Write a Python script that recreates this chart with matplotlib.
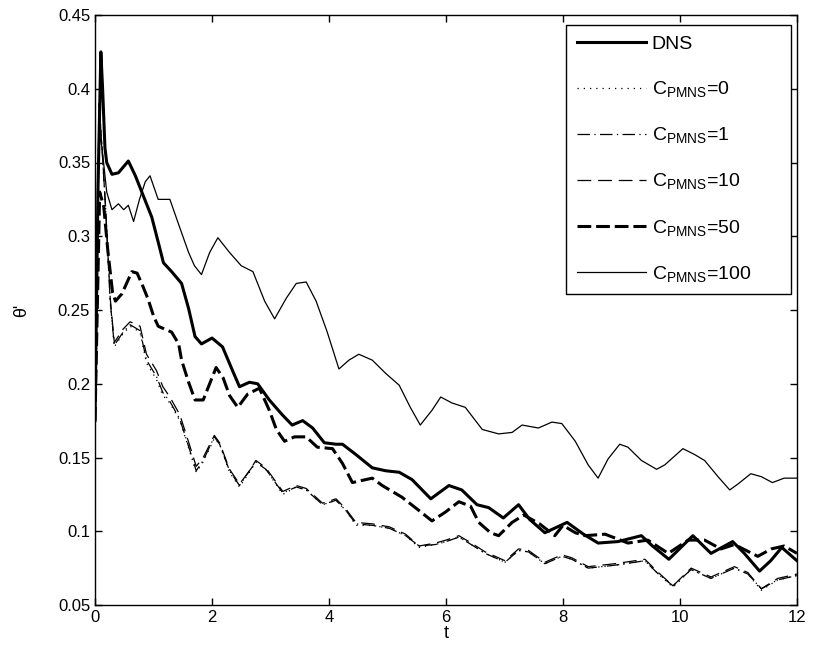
import matplotlib
matplotlib.use("Agg")
import matplotlib.pyplot as plt

plt.rcParams['font.family'] = ['Liberation Sans', 'DejaVu Sans']
plt.rcParams['mathtext.default'] = 'regular'

# DNS (linea gruesa)
t_dns = [0, 0.05, 0.1, 0.13, 0.17, 0.2, 0.29, 0.4, 0.57, 0.69, 0.8, 0.97, 1.1, 1.17, 1.31,
         1.48, 1.6, 1.71, 1.82, 2.0, 2.18, 2.35, 2.47, 2.64, 2.78, 2.98, 3.2, 3.37, 3.55, 3.72,
         3.92, 4.12, 4.23, 4.46, 4.74, 4.97, 5.2, 5.42, 5.74, 6.05, 6.27, 6.53, 6.73, 6.98,
         7.24, 7.43, 7.69, 8.07, 8.35, 8.6, 8.94, 9.34, 9.53, 9.81, 10.22, 10.53, 10.9, 11.1,
         11.36, 11.55, 11.74, 12]
th_dns = [0.175, 0.33, 0.425, 0.40, 0.36, 0.35, 0.342, 0.343, 0.351, 0.341, 0.330, 0.313,
          0.293, 0.282, 0.276, 0.268, 0.251, 0.232, 0.227, 0.231, 0.225, 0.209, 0.198, 0.201,
          0.200, 0.189, 0.179, 0.172, 0.175, 0.170, 0.160, 0.159, 0.159, 0.152, 0.143, 0.141,
          0.140, 0.135, 0.122, 0.131, 0.128, 0.118, 0.116, 0.109, 0.118, 0.108, 0.099, 0.106,
          0.098, 0.092, 0.093, 0.097, 0.090, 0.081, 0.097, 0.085, 0.093, 0.085, 0.073, 0.080,
          0.089, 0.080]

# C_PMNS = 0
t_c0 = [0, 0.07, 0.12, 0.18, 0.26, 0.33, 0.48, 0.6, 0.77, 0.88, 1.05, 1.16, 1.28, 1.45, 1.62,
        1.73, 1.85, 2.04, 2.13, 2.3, 2.47, 2.64, 2.75, 2.92, 3.21, 3.44, 3.61, 3.89, 4.12,
        4.29, 4.46, 4.74, 5.03, 5.31, 5.54, 5.82, 6.0, 6.22, 6.39, 6.67, 7.01, 7.24, 7.41,
        7.69, 7.98, 8.15, 8.43, 8.89, 9.4, 9.63, 9.88, 10.19, 10.53, 10.93, 11.16, 11.39,
        11.67, 12]
th_c0 = [0.175, 0.39, 0.36, 0.32, 0.255, 0.225, 0.234, 0.239, 0.235, 0.214, 0.203, 0.192,
         0.187, 0.175, 0.154, 0.140, 0.147, 0.163, 0.159, 0.140, 0.130, 0.140, 0.147, 0.142,
         0.125, 0.130, 0.128, 0.118, 0.121, 0.114, 0.104, 0.104, 0.102, 0.097, 0.089, 0.091,
         0.093, 0.096, 0.092, 0.085, 0.079, 0.087, 0.086, 0.078, 0.083, 0.081, 0.075, 0.077,
         0.080, 0.071, 0.062, 0.074, 0.068, 0.075, 0.071, 0.060, 0.067, 0.070]

# C_PMNS = 1
t_c1 = t_c0
th_c1 = [0.175, 0.39, 0.36, 0.32, 0.256, 0.226, 0.235, 0.240, 0.236, 0.216, 0.205, 0.194,
         0.188, 0.176, 0.155, 0.141, 0.148, 0.164, 0.159, 0.141, 0.131, 0.141, 0.147, 0.142,
         0.126, 0.130, 0.128, 0.118, 0.121, 0.114, 0.105, 0.104, 0.102, 0.097, 0.090, 0.091,
         0.093, 0.096, 0.092, 0.085, 0.079, 0.087, 0.086, 0.078, 0.083, 0.081, 0.075, 0.077,
         0.080, 0.071, 0.063, 0.074, 0.068, 0.075, 0.071, 0.061, 0.067, 0.070]

# C_PMNS = 10
t_c10 = t_c0
th_c10 = [0.175, 0.385, 0.36, 0.32, 0.258, 0.228, 0.237, 0.242, 0.239, 0.220, 0.209, 0.198,
          0.191, 0.179, 0.158, 0.144, 0.150, 0.165, 0.160, 0.142, 0.132, 0.141, 0.148, 0.143,
          0.127, 0.131, 0.129, 0.119, 0.122, 0.115, 0.106, 0.105, 0.103, 0.098, 0.090, 0.092,
          0.094, 0.097, 0.093, 0.086, 0.080, 0.088, 0.087, 0.079, 0.084, 0.082, 0.076, 0.078,
          0.081, 0.072, 0.063, 0.075, 0.069, 0.076, 0.072, 0.061, 0.068, 0.071]

# C_PMNS = 50
t_c50 = [0, 0.08, 0.15, 0.22, 0.3, 0.35, 0.46, 0.63, 0.72, 0.83, 0.91, 1.0, 1.08, 1.31, 1.43,
         1.48, 1.6, 1.71, 1.85, 2.07, 2.19, 2.3, 2.44, 2.61, 2.81, 2.98, 3.1, 3.24, 3.41, 3.61,
         3.8, 4.06, 4.23, 4.4, 4.74, 4.91, 5.25, 5.54, 5.76, 5.99, 6.22, 6.42, 6.56, 6.76, 6.9,
         7.13, 7.33, 7.6, 7.86, 8.0, 8.21, 8.38, 8.72, 9.11, 9.45, 9.8, 10.14, 10.42, 10.7,
         10.93, 11.33, 11.56, 11.78, 12]
th_c50 = [0.175, 0.33, 0.32, 0.29, 0.262, 0.256, 0.261, 0.276, 0.275, 0.265, 0.257, 0.246,
          0.239, 0.235, 0.227, 0.216, 0.201, 0.189, 0.189, 0.211, 0.204, 0.192, 0.184, 0.193,
          0.197, 0.182, 0.169, 0.161, 0.164, 0.164, 0.157, 0.156, 0.146, 0.133, 0.136, 0.131,
          0.123, 0.114, 0.107, 0.113, 0.120, 0.117, 0.106, 0.099, 0.097, 0.106, 0.111, 0.105,
          0.097, 0.104, 0.099, 0.097, 0.098, 0.092, 0.094, 0.085, 0.094, 0.094, 0.088, 0.091,
          0.083, 0.088, 0.090, 0.085]

# C_PMNS = 100
t_c100 = [0, 0.07, 0.12, 0.2, 0.29, 0.4, 0.49, 0.57, 0.66, 0.76, 0.86, 0.94, 1.08, 1.28, 1.43,
          1.6, 1.7, 1.82, 1.96, 2.1, 2.3, 2.5, 2.7, 2.9, 3.07, 3.27, 3.44, 3.61, 3.78, 3.97,
          4.17, 4.34, 4.51, 4.74, 4.97, 5.2, 5.39, 5.56, 5.76, 5.91, 6.1, 6.33, 6.62, 6.9, 7.13,
          7.3, 7.58, 7.81, 7.98, 8.21, 8.43, 8.6, 8.77, 8.97, 9.11, 9.34, 9.6, 9.74, 10.05,
          10.25, 10.42, 10.65, 10.85, 10.99, 11.21, 11.39, 11.58, 11.78, 12]
th_c100 = [0.175, 0.37, 0.36, 0.33, 0.318, 0.322, 0.318, 0.321, 0.310, 0.325, 0.337, 0.341,
           0.325, 0.325, 0.308, 0.289, 0.280, 0.274, 0.289, 0.299, 0.289, 0.280, 0.276, 0.256,
           0.244, 0.258, 0.268, 0.269, 0.256, 0.235, 0.210, 0.216, 0.220, 0.216, 0.207, 0.199,
           0.184, 0.172, 0.182, 0.191, 0.187, 0.184, 0.169, 0.166, 0.167, 0.172, 0.170, 0.174,
           0.173, 0.161, 0.145, 0.136, 0.149, 0.159, 0.157, 0.148, 0.142, 0.145, 0.156, 0.152,
           0.148, 0.137, 0.128, 0.132, 0.139, 0.137, 0.133, 0.136, 0.136]

x_ticks = [0, 2, 4, 6, 8, 10, 12]
y_ticks = [0.05, 0.1, 0.15, 0.2, 0.25, 0.3, 0.35, 0.4, 0.45]
y_tick_labels = ['0.05', '0.1', '0.15', '0.2', '0.25', '0.3', '0.35', '0.4', '0.45']

fig = plt.figure(figsize=(8.15, 6.45), dpi=100)
# caja de ejes: x 95..797 px, y 15..605 px
ax = fig.add_axes([95 / 815, 40 / 645, 702 / 815, 590 / 645])

ax.plot(t_dns, th_dns, 'k-', lw=2.2, label='DNS')
ax.plot(t_c0, th_c0, 'k-', lw=0.9, dashes=(1, 4), label='C$_{PMNS}$=0')
ax.plot(t_c1, th_c1, 'k-', lw=0.9, dashes=(10, 3.5, 1, 3.5), label='C$_{PMNS}$=1')
ax.plot(t_c10, th_c10, 'k-', lw=0.9, dashes=(11, 5.5), label='C$_{PMNS}$=10')
ax.plot(t_c50, th_c50, 'k-', lw=2.2, dashes=(4.5, 1.6), label='C$_{PMNS}$=50')
ax.plot(t_c100, th_c100, 'k-', lw=0.9, label='C$_{PMNS}$=100')

ax.set_xlim(0, 12)
ax.set_ylim(0.05, 0.45)
ax.set_xticks(x_ticks)
ax.set_yticks(y_ticks)
ax.set_yticklabels(y_tick_labels)
ax.tick_params(direction='in', length=5, width=1, top=True, right=True, labelsize=12)
for s in ax.spines.values():
    s.set_linewidth(1)

ax.set_xlabel('t', fontsize=13, labelpad=0)
ax.set_ylabel("θ'", fontsize=13, labelpad=20)

# leyenda: caja x 566..791, arriba en y=25
leg = ax.legend(loc='upper left', bbox_to_anchor=((566 - 95) / 702, 0.5, (791 - 566) / 702, (605 - 25) / 590 - 0.5),
                mode='expand', borderaxespad=0, fancybox=False, edgecolor='black', framealpha=1,
                fontsize=14, handlelength=3.55, handletextpad=0.3, labelspacing=1.34,
                borderpad=0.55)
leg.get_frame().set_linewidth(1)

fig.savefig('out.png', dpi=100)
